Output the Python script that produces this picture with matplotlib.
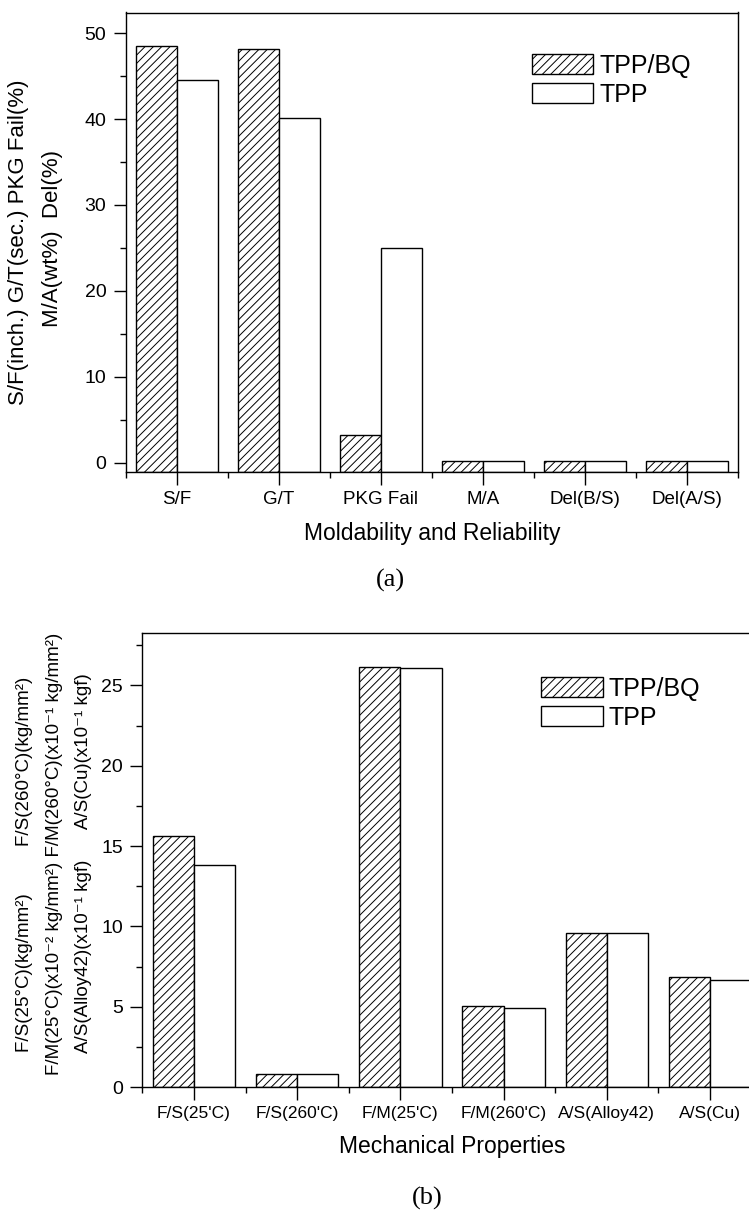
import numpy as np
import matplotlib
matplotlib.use("Agg")
import matplotlib.pyplot as plt
from matplotlib.ticker import MultipleLocator, FixedLocator

# ---- data ----
cats_a = ['S/F', 'G/T', 'PKG Fail', 'M/A', 'Del(B/S)', 'Del(A/S)']
tppbq_a = [48.5, 48.1, 3.25, 0.25, 0.25, 0.25]
tpp_a = [44.5, 40.1, 25.0, 0.25, 0.25, 0.25]

cats_b = ["F/S(25'C)", "F/S(260'C)", "F/M(25'C)", "F/M(260'C)", "A/S(Alloy42)", "A/S(Cu)"]
tppbq_b = [15.65, 0.82, 26.15, 5.02, 9.57, 6.85]
tpp_b = [13.85, 0.78, 26.1, 4.93, 9.57, 6.68]

series = ['TPP/BQ', 'TPP']

W, H = 749, 1210
NARROW = ['Liberation Sans Narrow', 'Liberation Sans', 'DejaVu Sans']
SANS = ['Liberation Sans', 'DejaVu Sans']
SERIF = ['Liberation Serif', 'DejaVu Serif']

plt.rcParams['hatch.linewidth'] = 0.7
plt.rcParams['axes.linewidth'] = 1.0


def px(x, y):
    # pixel position -> figure fraction
    return x / W, 1 - y / H


def draw_panel(ax, cats, v1, v2, ylim, major, minor, xlabel, xfs):
    x = np.arange(len(cats))
    base = ylim[0]
    ax.bar(x - 0.2, np.array(v1) - base, bottom=base, width=0.4,
           facecolor='white', edgecolor='black', linewidth=1.0,
           hatch='////', label=series[0])
    ax.bar(x + 0.2, np.array(v2) - base, bottom=base, width=0.4,
           facecolor='white', edgecolor='black', linewidth=1.0,
           label=series[1])
    ax.set_xlim(-0.5, len(cats) - 0.5)
    ax.set_ylim(*ylim)
    ax.yaxis.set_major_locator(MultipleLocator(major))
    ax.yaxis.set_minor_locator(MultipleLocator(minor))
    ax.set_xticks(x)
    ax.xaxis.set_minor_locator(FixedLocator(np.arange(len(cats) + 1) - 0.5))
    ax.set_xticklabels(cats, family=NARROW, fontsize=xfs)
    for lab in ax.get_yticklabels():
        lab.set_family(NARROW)
        lab.set_fontsize(14)
    ax.tick_params(which='major', direction='out', length=9, width=1, pad=5)
    ax.tick_params(which='minor', direction='out', length=4.5, width=1)
    ax.set_xlabel(xlabel, family=NARROW, fontsize=16.5, labelpad=10)


def add_legend(ax, fig, x, y):
    ax.legend(loc='upper left', bbox_to_anchor=px(x, y), bbox_transform=fig.transFigure,
              frameon=False, prop={'family': NARROW, 'size': 18},
              handlelength=2.45, handleheight=0.85, labelspacing=0.2,
              handletextpad=0.25, borderpad=0, borderaxespad=0)


def main():
    fig = plt.figure(figsize=(W / 100, H / 100), dpi=100)

    # panel (a)
    ax1 = fig.add_axes([125.7 / W, 1 - 471.7 / H, (738 - 125.7) / W, (471.7 - 12.5) / H])
    draw_panel(ax1, cats_a, tppbq_a, tpp_a, (-1.05, 52.4), 10, 5,
               'Moldability and Reliability', 13.5)
    fig.text(*px(19, 242), 'S/F(inch.) G/T(sec.) PKG Fail(%)', rotation=90,
             ha='center', va='center', family=SANS, fontsize=16)
    fig.text(*px(53, 238), 'M/A(wt%)  Del(%)', rotation=90,
             ha='center', va='center', family=SANS, fontsize=16)
    add_legend(ax1, fig, 531.8, 54)
    fig.text(*px(390.6, 580), '(a)', ha='center', va='center',
             family=SERIF, fontsize=19)

    # panel (b) - right side is cut off in the original scan
    ax2 = fig.add_axes([142.4 / W, 1 - 1087 / H, (761.6 - 142.4) / W, (1087 - 632.5) / H])
    draw_panel(ax2, cats_b, tppbq_b, tpp_b, (0, 28.3), 5, 2.5,
               'Mechanical Properties', 12.5)
    ylab_b = [
        'F/S(25°C)(kg/mm²)         F/S(260°C)(kg/mm²)',
        'F/M(25°C)(x10⁻² kg/mm²) F/M(260°C)(x10⁻¹ kg/mm²)',
        'A/S(Alloy42)(x10⁻¹ kgf)      A/S(Cu)(x10⁻¹ kgf)',
    ]
    for xp, yp, s in zip([25, 55, 84], [864, 854, 863], ylab_b):
        fig.text(*px(xp, yp), s, rotation=90, ha='center', va='center',
                 family=SANS, fontsize=13.5)
    add_legend(ax2, fig, 541.3, 677)
    fig.text(*px(427.6, 1198), '(b)', ha='center', va='center',
             family=SERIF, fontsize=19)

    fig.savefig('out.png', dpi=100)


if __name__ == '__main__':
    main()
